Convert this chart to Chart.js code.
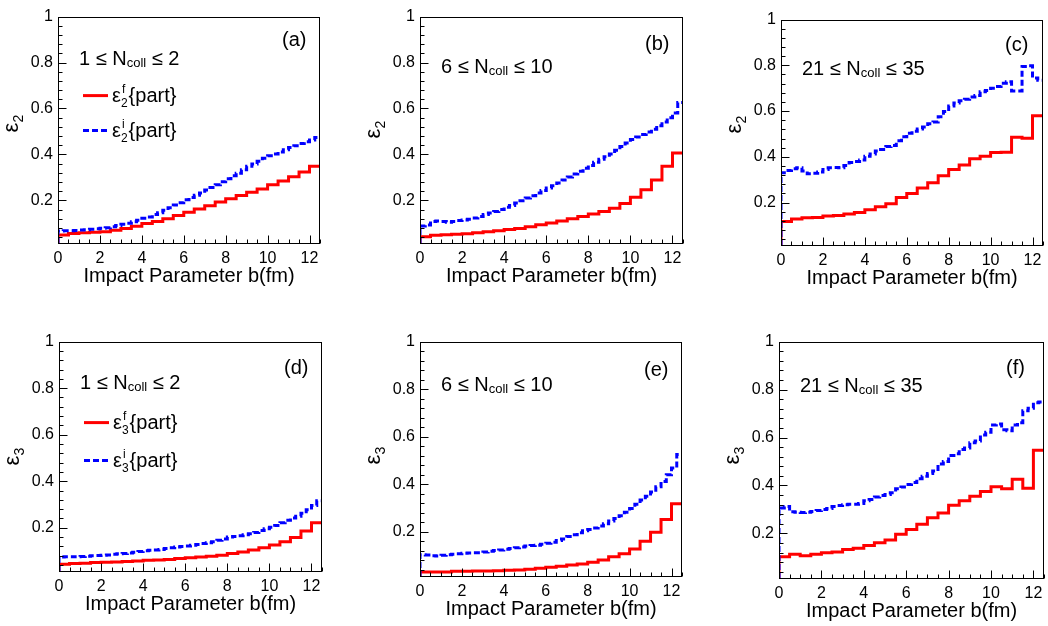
<!DOCTYPE html>
<html>
<head>
<meta charset="utf-8">
<script src="https://cdn.jsdelivr.net/npm/chart.js@4.4.0/dist/chart.umd.min.js"></script>
<style>
  body { margin: 0; background: #fff; width: 1048px; height: 626px; position: relative; overflow: hidden; }
  canvas { position: absolute; }
</style>
</head>
<body>
<script>
// axis setup
var xMin = 0, xMax = 12.5, yMin = 0.01, yMax = 1;
var xTickValues = [0, 2, 4, 6, 8, 10, 12];
var yTickValues = [0.2, 0.4, 0.6, 0.8, 1];
var yTickLabels = ['0.2', '0.4', '0.6', '0.8', '1'];
var binWidthFinal = 0.5;    // red histograms
var binWidthInitial = 0.25; // blue dashed histograms

var panelTags = ['(a)', '(b)', '(c)', '(d)', '(e)', '(f)'];
var ncollLow = ['1', '6', '21', '1', '6', '21'];
var ncollHigh = ['2', '10', '35', '2', '10', '35'];
var harmonics = ['2', '2', '2', '3', '3', '3'];

// eps_2, row 1
var e2FinalA = [0.049,0.056,0.059,0.061,0.063,0.070,0.077,0.087,0.099,0.108,0.120,0.134,0.148,0.162,0.176,0.193,0.207,0.221,0.235,0.249,0.268,0.284,0.303,0.324,0.349];
var e2InitialA = [0.067,0.068,0.068,0.069,0.071,0.072,0.074,0.076,0.079,0.081,0.085,0.090,0.096,0.100,0.107,0.113,0.122,0.128,0.138,0.146,0.157,0.168,0.180,0.190,0.203,0.212,0.222,0.232,0.245,0.256,0.268,0.281,0.294,0.307,0.318,0.333,0.348,0.358,0.370,0.383,0.394,0.402,0.411,0.420,0.430,0.438,0.447,0.455,0.463,0.474];
var e2FinalB = [0.042,0.048,0.050,0.052,0.055,0.059,0.063,0.068,0.073,0.077,0.085,0.094,0.101,0.110,0.120,0.130,0.141,0.152,0.166,0.186,0.214,0.246,0.289,0.348,0.406];
var e2InitialB = [0.088,0.093,0.108,0.110,0.108,0.105,0.108,0.112,0.115,0.118,0.123,0.130,0.138,0.145,0.152,0.160,0.170,0.178,0.188,0.198,0.210,0.220,0.232,0.243,0.254,0.264,0.276,0.289,0.302,0.315,0.327,0.340,0.352,0.366,0.379,0.390,0.402,0.418,0.434,0.450,0.465,0.476,0.487,0.498,0.510,0.525,0.541,0.560,0.580,0.626];
var e2FinalC = [0.117,0.128,0.133,0.135,0.141,0.143,0.150,0.157,0.168,0.182,0.195,0.222,0.240,0.264,0.287,0.317,0.345,0.364,0.392,0.402,0.419,0.420,0.485,0.481,0.580];
var e2InitialC = [0.330,0.340,0.348,0.352,0.338,0.326,0.328,0.334,0.345,0.352,0.353,0.352,0.362,0.375,0.380,0.386,0.402,0.412,0.425,0.432,0.445,0.450,0.470,0.488,0.503,0.512,0.522,0.530,0.545,0.552,0.575,0.598,0.622,0.635,0.645,0.652,0.662,0.668,0.684,0.690,0.700,0.708,0.722,0.728,0.688,0.688,0.795,0.798,0.745,0.735];

// eps_3, row 2
var e3FinalD = [0.043,0.047,0.048,0.051,0.052,0.053,0.055,0.057,0.060,0.062,0.064,0.068,0.071,0.074,0.078,0.082,0.089,0.096,0.104,0.114,0.126,0.140,0.158,0.186,0.222];
var e3InitialD = [0.074,0.075,0.075,0.076,0.077,0.078,0.080,0.081,0.082,0.083,0.086,0.088,0.090,0.092,0.095,0.098,0.101,0.103,0.105,0.107,0.111,0.114,0.117,0.120,0.122,0.125,0.128,0.132,0.136,0.140,0.146,0.152,0.160,0.163,0.166,0.170,0.174,0.180,0.188,0.196,0.202,0.210,0.222,0.232,0.242,0.250,0.262,0.278,0.296,0.316];
var e3FinalE = [0.031,0.031,0.031,0.034,0.034,0.035,0.035,0.036,0.038,0.039,0.043,0.047,0.051,0.055,0.060,0.065,0.072,0.081,0.095,0.108,0.128,0.160,0.198,0.252,0.318];
var e3InitialE = [0.104,0.103,0.099,0.098,0.101,0.104,0.106,0.108,0.110,0.111,0.112,0.112,0.115,0.118,0.121,0.124,0.127,0.130,0.133,0.136,0.140,0.142,0.144,0.148,0.152,0.156,0.163,0.170,0.180,0.188,0.196,0.204,0.210,0.216,0.224,0.234,0.245,0.256,0.268,0.282,0.298,0.316,0.334,0.350,0.368,0.390,0.412,0.440,0.468,0.525];
var e3FinalF = [0.103,0.113,0.107,0.113,0.119,0.123,0.133,0.138,0.150,0.161,0.173,0.197,0.216,0.238,0.265,0.285,0.318,0.336,0.355,0.375,0.395,0.386,0.426,0.388,0.547];
var e3InitialF = [0.306,0.312,0.290,0.288,0.287,0.288,0.292,0.296,0.300,0.304,0.312,0.316,0.320,0.322,0.322,0.325,0.336,0.342,0.352,0.358,0.362,0.370,0.386,0.394,0.404,0.412,0.428,0.438,0.450,0.460,0.490,0.500,0.525,0.532,0.550,0.556,0.578,0.585,0.610,0.622,0.652,0.656,0.632,0.628,0.652,0.662,0.712,0.722,0.745,0.748];

var finals = [e2FinalA, e2FinalB, e2FinalC, e3FinalD, e3FinalE, e3FinalF];
var initials = [e2InitialA, e2InitialB, e2InitialC, e3InitialD, e3InitialE, e3InitialF];

// plot-area boxes and text offsets (pixels)
var layout = [
  {L: 58,  T: 10,  R: 320,  B: 244, ncY: 48, tagY: 29, ytY: 107, legend: [79, 114]},
  {L: 420, T: 10,  R: 683,  B: 244, ncY: 56, tagY: 33, ytY: 113},
  {L: 781, T: 13,  R: 1043, B: 246, ncY: 55, tagY: 31, ytY: 105},
  {L: 59,  T: 335, R: 322,  B: 572, ncY: 47, tagY: 32, ytY: 115, legend: [81, 119]},
  {L: 420, T: 335, R: 682,  B: 577, ncY: 49, tagY: 34, ytY: 114},
  {L: 779, T: 335, R: 1044, B: 579, ncY: 50, tagY: 32, ytY: 114}
];

var FONT = '"Liberation Sans", Arial, Helvetica, sans-serif';
Chart.defaults.font.family = FONT;
Chart.defaults.color = '#000';

var padL = 56, padT = 8, padR = 4, xAxisH = 52;

function histPoints(values, width) {
  var pts = [{x: xMin, y: yMin}];
  for (var i = 0; i < values.length; i++) {
    pts.push({x: xMin + i * width, y: values[i]});
  }
  pts.push({x: xMin + values.length * width, y: values[values.length - 1]});
  return pts;
}

function font(size) { return size + 'px ' + FONT; }

// draws text pieces; a piece can be plain, shifted/scaled, or a stacked sup/sub pair
function drawPieces(ctx, x, y, pieces, size) {
  pieces.forEach(function (p) {
    if (p.sup !== undefined) {
      ctx.font = font(Math.round(size * 0.62));
      var w1 = ctx.measureText(p.sup).width, w2 = ctx.measureText(p.sub).width;
      ctx.fillText(p.sup, x + 1, y - size * 0.42);
      ctx.fillText(p.sub, x, y + size * 0.28);
      x += Math.max(w1 + 1, w2) + 1;
      return;
    }
    var s = p.s || 1;
    ctx.font = font(Math.round(size * s));
    ctx.fillText(p.t, x, y + (p.dy || 0) * size);
    x += ctx.measureText(p.t).width;
  });
}

function makePanel(k) {
  var lay = layout[k];
  var n = harmonics[k];
  var cv = document.createElement('canvas');
  var w = lay.R - lay.L + padL + padR;
  var h = lay.B - lay.T + padT + xAxisH;
  cv.width = w; cv.height = h;
  cv.style.left = (lay.L - padL) + 'px';
  cv.style.top = (lay.T - padT) + 'px';
  document.body.appendChild(cv);

  var deco = {
    id: 'deco' + k,
    afterDraw: function (chart) {
      var ctx = chart.ctx, a = chart.chartArea;
      var xs = chart.scales.x, ys = chart.scales.y;
      var l = Math.round(a.left) + 0.5, t = Math.round(a.top) + 0.5;
      var r = Math.round(a.right) - 0.5, b = Math.round(a.bottom) - 0.5;
      ctx.save();
      ctx.strokeStyle = '#000';
      ctx.lineWidth = 1;
      ctx.strokeRect(l, t, r - l, b - t);
      ctx.beginPath();
      // y ticks, pointing inward
      for (var i = 1; i <= 25; i++) {
        var v = i * 0.04;
        var py = Math.round(ys.getPixelForValue(v)) + 0.5;
        var major = (i % 5 === 0);
        ctx.moveTo(l, py); ctx.lineTo(l + (major ? 8 : 4), py);
      }
      // x ticks
      for (var j = 0; j <= 25; j++) {
        var xv = j * 0.5;
        var px = Math.round(xs.getPixelForValue(xv)) + 0.5;
        var xmaj = (j % 4 === 0);
        ctx.moveTo(px, b); ctx.lineTo(px, b - (xmaj ? 8 : 4));
      }
      ctx.stroke();

      ctx.fillStyle = '#000';
      ctx.textAlign = 'left';
      ctx.textBaseline = 'alphabetic';
      // N_coll range
      drawPieces(ctx, a.left + 21, a.top + lay.ncY,
        [{t: ncollLow[k] + ' \u2264 N'}, {t: 'coll', s: 0.65, dy: 0.14}, {t: ' \u2264 ' + ncollHigh[k]}], 20);
      // panel tag
      ctx.font = font(20);
      ctx.fillText(panelTags[k], a.right - 38, a.top + lay.tagY);

      // legend
      if (lay.legend) {
        var ly1 = a.top + lay.legend[0], ly2 = a.top + lay.legend[1];
        ctx.lineWidth = 3;
        ctx.strokeStyle = '#ff0000';
        ctx.beginPath(); ctx.moveTo(a.left + 25, ly1); ctx.lineTo(a.left + 50, ly1); ctx.stroke();
        ctx.strokeStyle = '#0000ff';
        ctx.setLineDash([6, 3]);
        ctx.beginPath(); ctx.moveTo(a.left + 25, ly2); ctx.lineTo(a.left + 50, ly2); ctx.stroke();
        ctx.setLineDash([]);
        drawPieces(ctx, a.left + 54, ly1 + 6, [{t: '\u03b5'}, {sup: 'f', sub: n}, {t: '{part}'}], 20);
        drawPieces(ctx, a.left + 54, ly2 + 6, [{t: '\u03b5'}, {sup: 'i', sub: n}, {t: '{part}'}], 20);
      }

      // y-axis title, rotated
      ctx.translate(a.left - 40, a.top + lay.ytY);
      ctx.rotate(-Math.PI / 2);
      ctx.font = font(22);
      var we = ctx.measureText('\u03b5').width;
      ctx.font = font(14);
      var wn = ctx.measureText(n).width;
      var x0 = -(we + wn) / 2;
      ctx.font = font(22);
      ctx.fillText('\u03b5', x0, 0);
      ctx.font = font(14);
      ctx.fillText(n, x0 + we, 5);
      ctx.restore();
    }
  };

  new Chart(cv, {
    type: 'line',
    data: {
      datasets: [
        {
          label: 'initial',
          data: histPoints(initials[k], binWidthInitial),
          borderColor: '#0000ff',
          borderWidth: 3,
          borderDash: [6, 3],
          stepped: 'before',
          pointRadius: 0,
          fill: false
        },
        {
          label: 'final',
          data: histPoints(finals[k], binWidthFinal),
          borderColor: '#ff0000',
          borderWidth: 3,
          stepped: 'before',
          pointRadius: 0,
          fill: false
        }
      ]
    },
    options: {
      responsive: false,
      animation: false,
      layout: { padding: { left: 0, top: padT, right: padR, bottom: 0 } },
      plugins: { legend: { display: false }, tooltip: { enabled: false } },
      scales: {
        x: {
          type: 'linear', min: xMin, max: xMax,
          afterBuildTicks: function (s) { s.ticks = xTickValues.map(function (v) { return {value: v}; }); },
          afterFit: function (s) { s.height = xAxisH; },
          grid: { display: false, drawTicks: false },
          border: { display: false },
          ticks: { padding: 5, font: { size: 16 }, color: '#000', maxRotation: 0, autoSkip: false,
                   callback: function (v) { return String(v); } },
          title: { display: true, text: 'Impact Parameter b(fm)', font: { size: 20 }, color: '#000',
                   padding: { top: 0, bottom: 8 } }
        },
        y: {
          type: 'linear', min: yMin, max: yMax,
          afterBuildTicks: function (s) { s.ticks = yTickValues.map(function (v) { return {value: v}; }); },
          afterFit: function (s) { s.width = padL; },
          grid: { display: false, drawTicks: false },
          border: { display: false },
          ticks: { padding: 5, font: { size: 16 }, color: '#000', autoSkip: false,
                   callback: function (v, i) { return yTickLabels[i]; } }
        }
      }
    },
    plugins: [deco]
  });
}

for (var k = 0; k < layout.length; k++) makePanel(k);
</script>
</body>
</html>
